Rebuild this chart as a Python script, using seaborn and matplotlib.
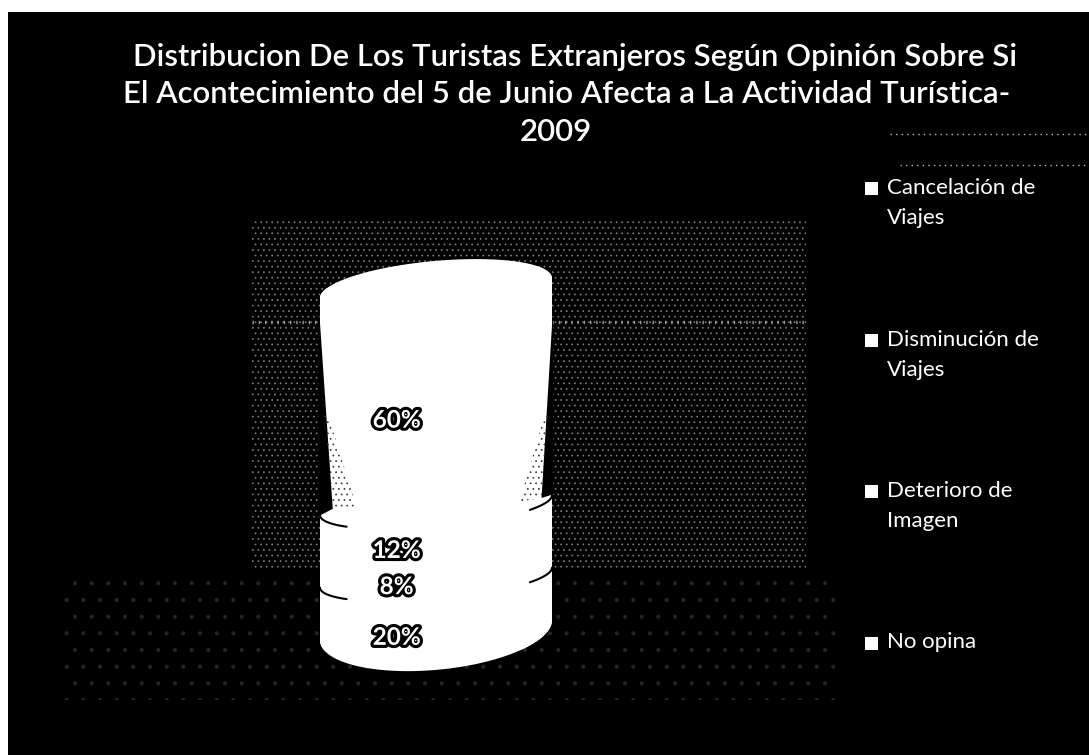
import numpy as np
import pandas as pd
import matplotlib
matplotlib.use('Agg')
import matplotlib.pyplot as plt
import matplotlib.patheffects as pe
from matplotlib.patches import Polygon, Rectangle
import seaborn as sns

CATEGORIAS = ['Cancelación de\nViajes', 'Disminución de\nViajes', 'Deterioro de\nImagen', 'No opina']
VALORES = [20, 8, 12, 60]
ETIQUETAS = ['20%', '8%', '12%', '60%']
TITULO = ['Distribucion De Los Turistas Extranjeros Según Opinión Sobre Si',
          'El Acontecimiento del 5 de Junio Afecta a La Actividad Turística-',
          '2009']

W, H = 1089, 755
sns.set_theme(style='white')
plt.rcParams['font.family'] = ['Lato', 'DejaVu Sans']
plt.rcParams['hatch.linewidth'] = 0.5

fig = plt.figure(figsize=(W / 100, H / 100), dpi=100, facecolor='white')

# fondo en pixeles de la imagen: plano negro, pared y piso punteados
bg = fig.add_axes([0, 0, 1, 1], zorder=0)
bg.set_xlim(0, W)
bg.set_ylim(H, 0)
bg.axis('off')
bg.add_patch(Rectangle((8, 12), W, H, facecolor='black', edgecolor='none'))
bg.add_patch(Rectangle((60, 570), 780, 130, facecolor='none', edgecolor='#262626', hatch='.', lw=0))
bg.add_patch(Rectangle((252, 218), 554, 352, facecolor='black', edgecolor='#808080', hatch='...', lw=0))
bg.plot([252, 806], [322, 322], color='#999999', lw=2.5, ls=(0, (0.4, 1.4)))
bg.plot([890, W], [134, 134], color='#bbbbbb', lw=1.0, ls=(0, (1, 3)))
bg.plot([900, W], [165, 165], color='#bbbbbb', lw=1.0, ls=(0, (1, 3)))

for linea, x, y in zip(TITULO, [575, 567, 556], [57, 94, 132]):
    bg.text(x, y, linea, color='white', fontsize=22.4, ha='center', va='center', fontweight='semibold')

for i, cat in enumerate(CATEGORIAS):
    y = 188 + 151.5 * i
    bg.add_patch(Rectangle((865, y - 6), 13, 13, facecolor='white', edgecolor='none'))
    bg.text(887, y - 10, cat, color='white', fontsize=16, va='top', linespacing=1.65)

# cilindro: barras apiladas con tapas elipticas
ax = fig.add_axes([320 / W, (H - 650) / H, 232 / W, 362 / H], zorder=1)
ax.patch.set_alpha(0)

TILT = 5.5   # inclinacion de las elipses, unidades de y por ancho de barra

def elipse(yc, b, t):
    x = 0.5 * np.cos(t)
    return x, yc + b * np.sin(t) + TILT * x

base = 0
for cat, val in zip(CATEGORIAS, VALORES):
    fila = pd.DataFrame({'grupo': ['a'], 'valor': [val]})
    sns.barplot(data=fila, x='grupo', y='valor', bottom=base, width=1, color='white',
                saturation=1, ax=ax, edgecolor='none', linewidth=0)
    base += val
total = base

ax.set_xlim(-0.5, 0.5)
ax.set_ylim(0, total)
ax.axis('off')

# silueta: mitad superior de la tapa y mitad inferior del fondo
sup_x, sup_y = elipse(total, 7.5, np.linspace(0, np.pi, 120))
inf_x, inf_y = elipse(5.5, 11, np.linspace(np.pi, 2 * np.pi, 120))
silueta = Polygon(np.c_[np.r_[sup_x, inf_x], np.r_[sup_y, inf_y]], closed=True,
                  facecolor='white', edgecolor='none', transform=ax.transData, clip_on=False, zorder=2)
ax.add_patch(silueta)
for barra in ax.patches:
    if barra is not silueta:
        barra.set_clip_path(silueta)

# sombra en la parte baja del segmento mayor: negro hacia el borde y punteado hacia adentro
limite = VALORES[0] + VALORES[1] + VALORES[2]
sombras = [([-0.505, -0.445, -0.505], [limite - 3, limite - 1, limite + 55]),
           ([0.505, 0.455, 0.505], [limite + 3, limite + 2, limite + 55])]
punteado = [([-0.445, -0.34, -0.49], [limite - 1, limite - 1, limite + 30]),
            ([0.455, 0.36, 0.49], [limite + 2, limite + 1, limite + 30])]
for xs, ys in sombras:
    ax.add_patch(Polygon(np.c_[xs, ys], closed=True, facecolor='black', edgecolor='none',
                         zorder=3, clip_on=False))
for xs, ys in punteado:
    ax.add_patch(Polygon(np.c_[xs, ys], closed=True, facecolor='none', edgecolor='#333333',
                         hatch='...', lw=0, zorder=3, clip_on=False))

# separaciones visibles solo en los extremos de cada segmento
for nivel in [VALORES[0], limite]:
    for t0, t1 in [(np.pi, 1.22 * np.pi), (1.80 * np.pi, 2 * np.pi)]:
        xs, ys = elipse(nivel, 6, np.linspace(t0, t1, 30))
        ax.plot(xs, ys, color='black', lw=1.5, zorder=4, clip_on=False, solid_capstyle='round')

base = 0
for val, txt in zip(VALORES, ETIQUETAS):
    ax.text(-0.17, base + val / 2 - 6.5, txt, color='white', fontsize=17.5, fontweight='bold',
            ha='center', va='center', zorder=5,
            path_effects=[pe.withStroke(linewidth=4.5, foreground='black')])
    base += val

fig.savefig('out.png', dpi=100, facecolor=fig.get_facecolor())
